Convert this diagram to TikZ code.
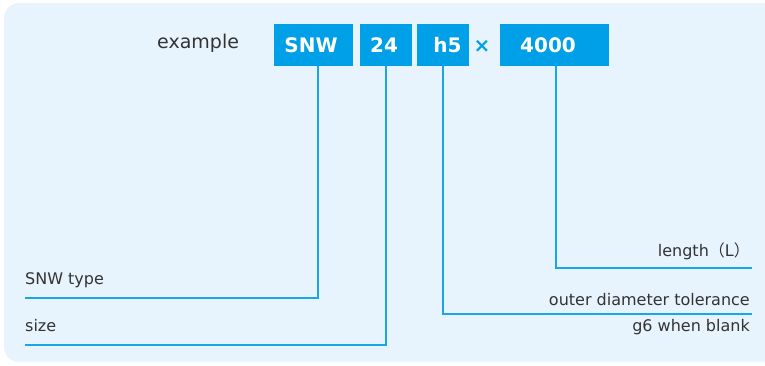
\documentclass[tikz,border=0pt]{standalone}
\usepackage{fontspec}
\setmainfont{DejaVu Sans}
\newfontfamily\cjkfont{Noto Sans CJK JP}
\definecolor{bgblue}{HTML}{E8F4FD}
\definecolor{boxblue}{HTML}{00A0E9}
\definecolor{lineblue}{HTML}{18A6E6}
\definecolor{txtgray}{HTML}{333333}
\begin{document}
\begin{tikzpicture}[x=1pt,y=-1pt,
  codebox/.style={fill=boxblue, text=white, inner sep=0pt, minimum height=42pt,
    font=\fontsize{20}{24}\selectfont\bfseries},
  lbl/.style={inner sep=0pt, text=txtgray, font=\fontsize{16}{19}\selectfont},
  conn/.style={draw=lineblue, line width=2pt}]
\useasboundingbox (0,0) rectangle (765,365);
\fill[bgblue, rounded corners=15pt] (4,3) rectangle (785,362);
% example line
\node[lbl, anchor=base west, font=\fontsize{19}{22}\selectfont] (ex) at (157,48) {example};
\node[codebox, minimum width=79pt] (snw) at (313.5,45) {\hspace*{-5pt}SNW};
\node[codebox, minimum width=52pt] (sz) at (386,45) {\hspace*{-4pt}24};
\node[codebox, minimum width=52pt] (tol) at (443,45) {\hspace*{9pt}h5};
\node[inner sep=0pt, text=boxblue, font=\fontsize{20}{24}\selectfont\bfseries] (times) at (482,46) {×};
\node[codebox, minimum width=109pt] (len) at (554.5,45) {\hspace*{-13pt}4000};
% labels
\node[lbl, anchor=base west] (ltype) at (25,284) {SNW type};
\node[lbl, anchor=base west] (lsize) at (25,331.5) {size};
\node[lbl, anchor=base east] (llen) at (750,256.5) {length{\cjkfont（}L{\cjkfont ）}};
\node[lbl, anchor=base east] (ltol) at (750,305.5) {outer diameter tolerance};
\node[lbl, anchor=base east] (lblank) at (750,331.5) {g6 when blank};
% connector corners and ends
\coordinate (c1) at (318,298);   \coordinate (e1) at (25,298);
\coordinate (c2) at (386,345);   \coordinate (e2) at (25,345);
\coordinate (c3) at (443,314);   \coordinate (e3) at (752,314);
\coordinate (c4) at (556,268);   \coordinate (e4) at (752,268);
\draw[conn] (snw.south -| c1) -- (c1) -- (e1);
\draw[conn] (sz.south -| c2) -- (c2) -- (e2);
\draw[conn] (tol.south -| c3) -- (c3) -- (e3);
\draw[conn] (len.south -| c4) -- (c4) -- (e4);
\end{tikzpicture}
\end{document}
